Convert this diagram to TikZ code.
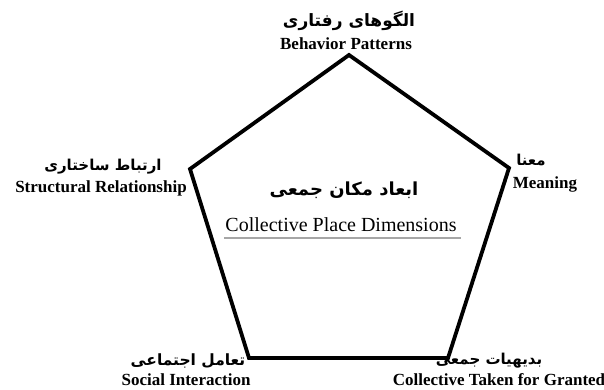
\documentclass[tikz,border=0pt]{standalone}
\usepackage{fontspec}
\setmainfont{Liberation Serif}
\newfontfamily\fafont[Script=Arabic]{DejaVu Sans}
\TeXXeTstate=1
\begin{document}
\begin{tikzpicture}[x=1pt,y=-1pt,
  en/.style={font=\fontsize{17}{18}\selectfont\bfseries, inner sep=0pt},
  fa/.style={font=\fontsize{15}{17}\fafont\bfseries, inner sep=0pt},
  edge/.style={line width=3.8pt, line join=miter, line cap=butt}]
\useasboundingbox (0,0) rectangle (604,389);
\coordinate (T) at (349,55);
\coordinate (R) at (509,168);
\coordinate (BR) at (448,358);
\coordinate (BL) at (249,358);
\coordinate (L) at (190,169);
\draw[edge] (T) -- (R) -- (BR) -- (BL) -- (L) -- cycle;
% top
\node[fa, font=\fontsize{17}{19}\fafont\bfseries] (tfa) at (349,21) {\beginR الگوهای رفتاری\endR};
\node[en] (ten) at (346,44) {Behavior Patterns};
% left
\node[fa] (lfa) at (103,167) {\beginR ارتباط ساختاری\endR};
\node[en] (len) at (101,188) {Structural Relationship};
% right
\node[fa] (rfa) at (531,160) {\beginR معنا\endR};
\node[en] (ren) at (545,184) {Meaning};
% centre
\node[font=\fontsize{18}{20}\fafont\bfseries, inner sep=0pt] (cfa) at (344,190) {\beginR ابعاد مکان جمعی\endR};
\node[font=\fontsize{20}{22}\selectfont, inner sep=0pt] (cen) at (341,225) {Collective Place Dimensions};
\draw[gray!70, line width=1.5pt] (224,238) -- (461,238);
% bottom left
\node[fa, font=\fontsize{15.5}{17}\fafont\bfseries] (blfa) at (188,361) {\beginR تعامل اجتماعی\endR};
\node[en] (blen) at (186,380) {Social Interaction};
% bottom right
\node[fa] (brfa) at (489,361) {\beginR بدیهیات جمعی\endR};
\node[en] (bren) at (499,380) {Collective Taken for Granted};
\end{tikzpicture}
\end{document}
